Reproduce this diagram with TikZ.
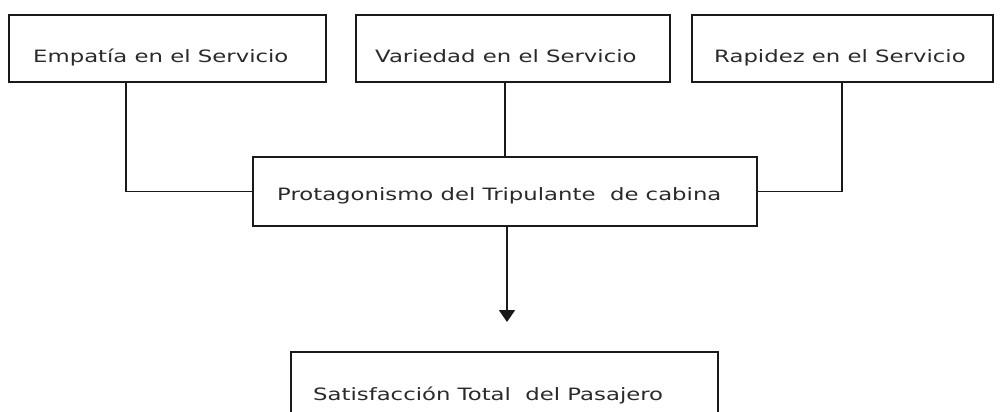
\documentclass[tikz,border=0pt]{standalone}
\usepackage{fontspec}
\setmainfont{DejaVu Sans}
\newfontfamily\widefont[FakeStretch=1.34]{DejaVu Sans}
\usetikzlibrary{arrows.meta}
\definecolor{boxline}{HTML}{1A1A1A}
\definecolor{txt}{HTML}{2A2A2A}
\begin{document}
\begin{tikzpicture}[x=1pt,y=-1pt,
  box/.style={draw=boxline,line width=1.8pt,rectangle,inner sep=0pt},
  lbl/.style={anchor=base west,inner sep=0pt,text=txt,font=\widefont\fontsize{17}{20}\selectfont},
  conn/.style={draw=boxline,line width=1.8pt}]
\useasboundingbox (0,0) rectangle (1001,412);
\fill[white] (0,0) rectangle (1001,412);
% boxes
\node[box,minimum width=317pt,minimum height=67pt] (b1) at (167.5,48.5) {};
\node[box,minimum width=314pt,minimum height=67pt] (b2) at (513,48.5) {};
\node[box,minimum width=301pt,minimum height=67pt] (b3) at (842.5,48.5) {};
\node[box,minimum width=504pt,minimum height=69pt] (p) at (505,191.5) {};
\node[box,minimum width=427pt,minimum height=68pt] (s) at (504.5,386) {};
% labels
\node[lbl] (t1) at (33,63) {Empatía en el Servicio};
\node[lbl] (t2) at (375,63) {Variedad en el Servicio};
\node[lbl] (t3) at (714,63) {Rapidez en el Servicio};
\node[lbl] (tp) at (277,200) {Protagonismo del Tripulante\ \ de cabina};
\node[lbl] (ts) at (313,400) {Satisfacción Total\ \ del Pasajero};
% connectors
\draw[conn] (b1.south -| 126,0) |- (p.west);
\draw[conn] (b2.south -| p.north) -- (p.north);
\draw[conn] (b3.south -| 842,0) |- (p.east);
\coordinate (tip) at (507,322);
\draw[conn,-{Triangle[width=16pt,length=12pt]}] (p.south -| tip) -- (tip);
\end{tikzpicture}
\end{document}
